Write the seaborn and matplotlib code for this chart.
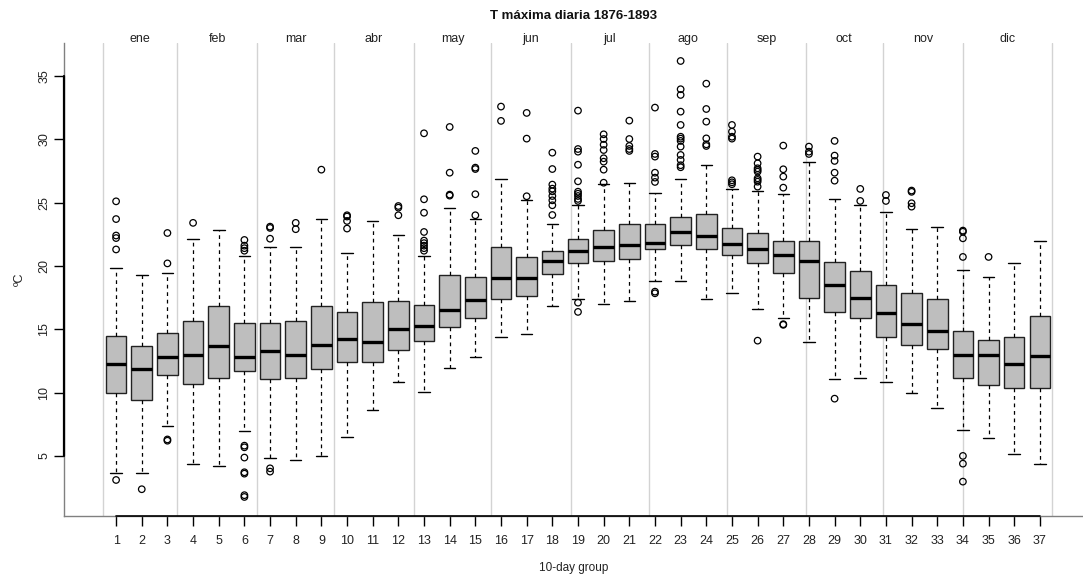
import matplotlib
matplotlib.use("Agg")
import matplotlib.pyplot as plt
import numpy as np
import pandas as pd
import seaborn as sns

# Box summaries of daily maximum temperature per 10-day group (ºC)
groups = list(range(1, 38))
q1 = [10.0, 9.4, 11.39, 10.66, 11.13, 11.71, 11.1, 11.13, 11.89, 12.39,
      12.39, 13.34, 14.07, 15.21, 15.89, 17.39, 17.6, 19.34, 20.2, 20.37,
      20.55, 21.31, 21.66, 21.37, 20.87, 20.21, 19.47, 17.45, 16.34, 15.87,
      14.37, 13.76, 13.47, 11.13, 10.6, 10.37, 10.37]
medians = [12.26, 11.9, 12.81, 13.0, 13.65, 12.81, 13.26, 13.0, 13.73, 14.2,
           14.0, 15.0, 15.26, 16.5, 17.34, 19.07, 19.07, 20.39, 21.2, 21.5,
           21.68, 21.84, 22.66, 22.39, 21.76, 21.37, 20.87, 20.39, 18.5, 17.45,
           16.29, 15.39, 14.89, 13.0, 13.0, 12.26, 12.87]
q3 = [14.47, 13.65, 14.73, 15.68, 16.81, 15.5, 15.5, 15.68, 16.81, 16.34,
      17.13, 17.26, 16.94, 19.29, 19.1, 21.5, 20.71, 21.2, 22.1, 22.81,
      23.29, 23.29, 23.87, 24.08, 22.97, 22.58, 21.97, 21.97, 20.29, 19.58,
      18.5, 17.86, 17.39, 14.89, 14.15, 14.37, 16.08]
whisk_lo = [3.63, 3.63, 7.37, 4.37, 4.2, 7.0, 4.8, 4.68, 5.0, 6.47,
            8.66, 10.87, 10.08, 11.97, 12.81, 14.37, 14.6, 16.81, 17.42, 16.97,
            17.26, 18.81, 18.81, 17.39, 17.89, 16.6, 15.87, 13.97, 11.1, 11.15,
            10.87, 10.0, 8.79, 7.05, 6.42, 5.18, 4.39]
whisk_hi = [19.8, 19.3, 19.47, 22.1, 22.8, 20.76, 21.52, 21.52, 23.73, 21.05,
            23.57, 22.42, 20.79, 24.6, 23.68, 26.87, 25.18, 23.29, 24.79, 26.45,
            26.57, 25.78, 26.87, 27.97, 26.05, 25.94, 25.66, 28.18, 25.29, 24.79,
            24.29, 22.89, 23.08, 19.66, 19.16, 20.21, 22.0]
outliers = {
    1: [25.1, 23.7, 22.4, 22.2, 21.3, 3.1],
    2: [2.37],
    3: [22.6, 20.2, 6.3, 6.2],
    4: [23.4],
    6: [22.05, 21.6, 21.4, 21.2, 5.81, 5.68, 4.87, 3.71, 3.6, 1.9, 1.76],
    7: [23.1, 23.0, 22.15, 4.02, 3.76],
    8: [23.4, 22.9],
    9: [27.6],
    10: [24.0, 23.9, 23.55, 22.95],
    12: [24.73, 24.6, 24.0],
    13: [30.47, 25.26, 24.2, 22.68, 22.0, 21.8, 21.6, 21.4, 21.2],
    14: [30.97, 27.36, 25.63, 25.55],
    15: [29.08, 27.76, 27.65, 25.66, 24.0],
    16: [32.58, 31.45],
    17: [32.08, 30.05, 25.5],
    18: [28.94, 27.65, 26.42, 26.1, 25.89, 25.52, 25.18, 24.79, 24.02],
    19: [32.26, 29.23, 29.02, 27.99, 26.68, 25.86, 25.7, 25.52, 25.29, 25.13,
         17.1, 16.37],
    20: [30.39, 30.02, 29.57, 29.15, 28.5, 28.23, 27.6, 26.57],
    21: [31.47, 30.02, 29.47, 29.23, 29.08],
    22: [32.5, 28.84, 28.63, 27.36, 26.97, 26.63, 17.97, 17.84],
    23: [36.18, 33.95, 33.5, 32.18, 31.13, 30.2, 30.05, 29.87, 29.42, 28.76,
         28.37, 27.95, 27.79],
    24: [34.39, 32.39, 31.39, 30.07, 29.6, 29.47],
    25: [31.13, 30.6, 30.2, 30.05, 26.76, 26.6, 26.45],
    26: [28.63, 28.1, 27.71, 27.57, 27.44, 26.92, 26.79, 26.65, 26.26, 14.1],
    27: [29.5, 27.63, 27.05, 26.18, 15.4, 15.35],
    28: [29.42, 29.02, 28.84],
    29: [29.87, 28.71, 28.29, 27.36, 26.73, 9.52],
    30: [26.08, 25.13],
    31: [25.6, 25.13],
    32: [25.95, 25.85, 24.95, 24.68],
    34: [22.79, 22.7, 22.18, 20.71, 5.0, 4.39, 2.97],
    35: [20.71],
}

months = ["ene", "feb", "mar", "abr", "may", "jun",
          "jul", "ago", "sep", "oct", "nov", "dic"]
# month boundaries expressed on the 10-day group scale
month_edges = [0.49, 3.38, 6.49, 9.49, 12.61, 15.61, 18.73,
               21.77, 24.81, 27.88, 30.88, 34.0, 37.47]

sns.set_style("ticks")
plt.rcParams["font.family"] = ["Liberation Sans", "DejaVu Sans"]

fig = plt.figure(figsize=(10.83, 5.79), dpi=100)
ax = fig.add_axes([64 / 1083, 63.3 / 579, 1 - 64 / 1083, (515.7 - 43) / 579])

# month separators
for edge in month_edges:
    ax.axvline(edge, color="#d3d3d3", lw=1.0, zorder=0)

stats = [
    dict(med=m, q1=a, q3=b, whislo=lo, whishi=hi, fliers=[], label=str(g))
    for g, a, m, b, lo, hi in zip(groups, q1, medians, q3, whisk_lo, whisk_hi)
]
ax.bxp(
    stats, positions=groups, widths=0.8, patch_artist=True, showfliers=False,
    boxprops=dict(facecolor="#bebebe", edgecolor="#222222", linewidth=1.0),
    medianprops=dict(color="black", linewidth=2.4, solid_capstyle="butt"),
    whiskerprops=dict(color="black", linewidth=0.9, linestyle=(0, (3, 3))),
    capprops=dict(color="black", linewidth=1.0),
    capwidths=0.45, manage_ticks=False,
)

out_df = pd.DataFrame(
    [(g, v) for g, vals in outliers.items() for v in vals],
    columns=["group", "value"],
)
sns.scatterplot(
    data=out_df, x="group", y="value", ax=ax, marker="o",
    facecolor="none", edgecolor="black", linewidth=0.9, s=22, zorder=3,
    legend=False,
)

ax.set_xlim(-1.03, 38.68)
ax.set_ylim(0.28, 37.6)
ax.set_xticks(groups)
ax.set_xticklabels([str(g) for g in groups])
ax.set_yticks([5, 10, 15, 20, 25, 30, 35])
ax.tick_params(axis="both", length=7, width=1.0, color="black",
               labelsize=9, labelcolor="#222222")
ax.tick_params(axis="x", pad=7)
ax.tick_params(axis="y", pad=3)
for lab in ax.get_yticklabels():
    lab.set_rotation(90)
    lab.set_va("center")

# light frame on left/bottom, dark axis line across the tick range
for side in ["top", "right"]:
    ax.spines[side].set_visible(False)
for side in ["left", "bottom"]:
    ax.spines[side].set_color("#808080")
    ax.spines[side].set_linewidth(1.0)
ax.plot([1, 37], [0.28, 0.28], color="black", lw=1.2, clip_on=False, zorder=5)
ax.plot([-1.03, -1.03], [5, 35], color="black", lw=1.6, clip_on=False, zorder=5)

# month names along the top edge
trans = matplotlib.transforms.blended_transform_factory(ax.transData, ax.transAxes)
for name, left, right in zip(months, month_edges[:-1], month_edges[1:]):
    ax.text((left + right) / 2, 1.002, name, transform=trans, ha="center",
            va="baseline", fontsize=9, color="#222222")

ax.set_title("T máxima diaria 1876-1893", fontsize=9.5, fontweight="bold",
             pad=17, color="#111111")
ax.set_xlabel("10-day group", fontsize=8.5, labelpad=11, color="#222222")
ax.set_ylabel("ºC", fontsize=9, labelpad=9, color="#222222")

fig.savefig("out.png", dpi=100)
